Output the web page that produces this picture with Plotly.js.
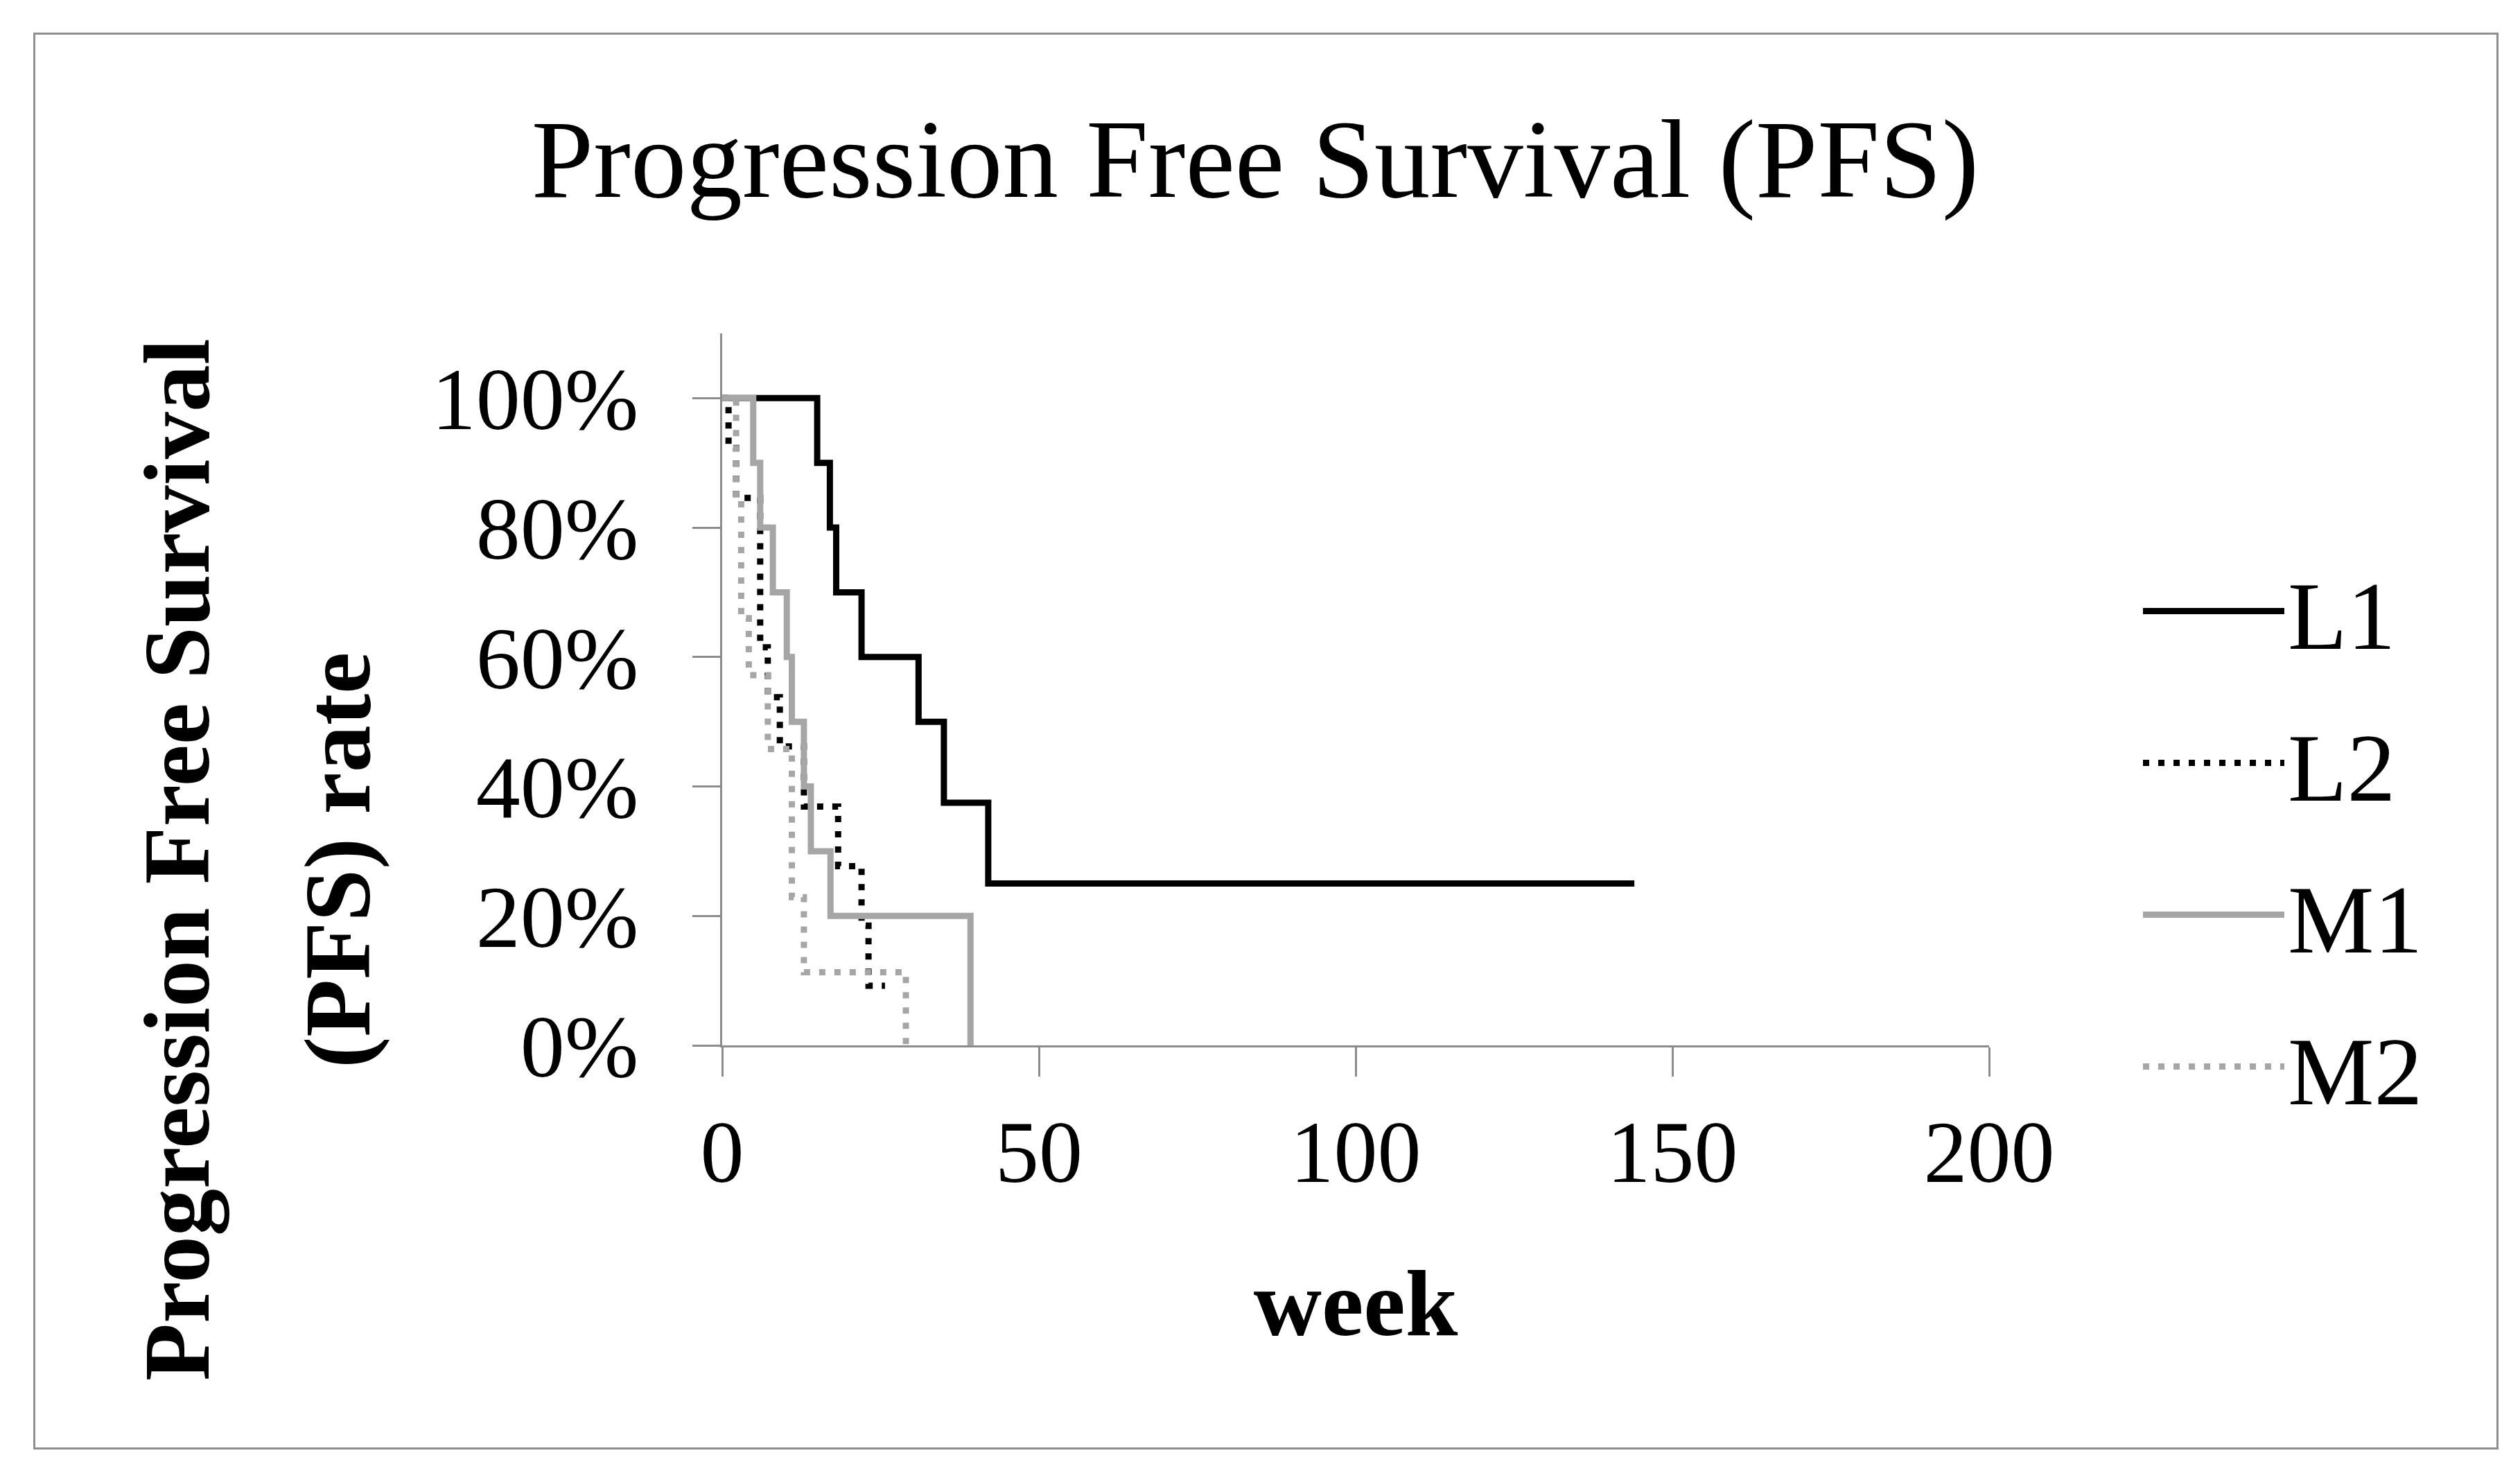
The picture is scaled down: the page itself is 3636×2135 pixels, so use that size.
<!DOCTYPE html>
<html>
<head>
<meta charset="utf-8">
<script src="https://cdn.plot.ly/plotly-3.0.1.min.js"></script>
<style>
html,body{margin:0;padding:0;background:#ffffff;}
#wrap{position:relative;width:3636px;height:2135px;}
#chart{position:absolute;left:0;top:0;width:3636px;height:2135px;}
#frame{position:absolute;left:48px;top:47px;width:3551px;height:2038px;border:3px solid #8e8e8e;pointer-events:none;}
</style>
</head>
<body>
<div id="wrap"><div id="chart"></div><div id="frame"></div></div>
<script>
// ---- data ----
const seriesNames = ["L1", "L2", "M1", "M2"];

const weeksL1 = [0, 15, 17, 18, 22, 31, 35, 42, 144];
const pfsL1   = [100, 90, 80, 70, 60, 50, 37.5, 25, 25];

const weeksL2 = [0, 1, 2.2, 6.0, 7.2, 9.1, 12.9, 18.3, 22.0, 23.1, 25.7];
const pfsL2   = [100, 92.3, 84.6, 61.5, 53.8, 46.2, 36.9, 27.7, 18.5, 9.2, 9.2];

const weeksM1 = [0, 4.9, 6.0, 8.0, 10.2, 11.0, 12.9, 14.0, 17.1, 39.2];
const pfsM1   = [100, 90, 80, 70, 60, 50, 40, 30, 20, 0];

const weeksM2 = [0, 2.2, 3.0, 4.2, 7.2, 11.0, 12.9, 29.0];
const pfsM2   = [100, 84.5, 66, 57.2, 45.8, 22.9, 11.3, 0];

const xTickVals = [0, 50, 100, 150, 200];
const yTickVals = [0, 20, 40, 60, 80, 100];
const yTickText = ["0%", "20%", "40%", "60%", "80%", "100%"];

const chartTitle = "Progression Free Survival (PFS)";
const xTitle = "week";
const yTitleLines = ["Progression Free Survival", "(PFS) rate"];

// ---- styles ----
const FONT = "Liberation Serif, Times New Roman, serif";
const BLACK = "#000000";
const GRAY = "#a6a6a6";
const AXIS = "#8c8c8c";
const DOTS = "9px,13px";

// plot area in pixels
const PL = 1042, PR = 2870, PT = 481, PB = 1508;
const PW = PR - PL, PH = PB - PT;
const px2paperX = p => (p - PL) / PW;
const px2paperY = p => (PB - p) / PH;

const xs = [weeksL1, weeksL2, weeksM1, weeksM2];
const ys = [pfsL1, pfsL2, pfsM1, pfsM2];
const lineStyles = [
  {color: BLACK, width: 9, dash: "solid", shape: "hv"},
  {color: BLACK, width: 9, dash: DOTS, shape: "hv"},
  {color: GRAY,  width: 9, dash: "solid", shape: "hv"},
  {color: GRAY,  width: 9, dash: DOTS, shape: "hv"}
];

const traces = seriesNames.map((name, i) => ({
  type: "scatter",
  mode: "lines",
  name: name,
  legendgroup: name,
  x: xs[i],
  y: ys[i],
  line: lineStyles[i],
  hoverinfo: "skip"
}));

const yTitleX = [255, 487];
const annotations = yTitleLines.map((t, i) => ({
  text: t,
  xref: "paper", yref: "paper",
  x: px2paperX(yTitleX[i]), y: px2paperY(1241),
  xanchor: "center", yanchor: "middle",
  textangle: -90,
  showarrow: false,
  font: {family: FONT, size: 136, color: BLACK, weight: "bold"}
}));

const layout = {
  width: 3636,
  height: 2135,
  paper_bgcolor: "#ffffff",
  plot_bgcolor: "#ffffff",
  margin: {l: PL, r: 3636 - PR, t: PT, b: 2135 - PB, pad: 0, autoexpand: false},
  font: {family: FONT, color: BLACK, size: 128},
  title: {
    text: chartTitle,
    font: {family: FONT, size: 161, color: BLACK},
    xref: "container", yref: "container",
    x: 1811 / 3636, xanchor: "center",
    y: 1 - 228 / 2135, yanchor: "middle"
  },
  xaxis: {
    range: [0, 200],
    tickvals: xTickVals,
    ticktext: xTickVals.map(String),
    showgrid: false,
    zeroline: false,
    showline: true,
    linecolor: AXIS,
    linewidth: 3,
    ticks: "outside",
    ticklen: 42,
    tickwidth: 3,
    tickcolor: AXIS,
    tickfont: {family: FONT, size: 126, color: BLACK},
    ticklabelstandoff: 1,
    automargin: false,
    fixedrange: true,
    title: {text: xTitle, font: {family: FONT, size: 136, color: BLACK, weight: "bold"}, standoff: 100}
  },
  yaxis: {
    range: [0, 110],
    tickvals: yTickVals,
    ticktext: yTickText,
    showgrid: false,
    zeroline: false,
    showline: true,
    linecolor: AXIS,
    linewidth: 3,
    ticks: "outside",
    ticklen: 40,
    tickwidth: 3,
    tickcolor: AXIS,
    tickfont: {family: FONT, size: 128, color: BLACK},
    ticklabelstandoff: 52,
    automargin: false,
    fixedrange: true
  },
  annotations: annotations,
  showlegend: true,
  legend: {
    xref: "container", yref: "container",
    x: 3087 / 3636, xanchor: "left",
    y: 1 - 784 / 2135, yanchor: "top",
    orientation: "v",
    traceorder: "grouped",
    tracegroupgap: 34,
    itemwidth: 204,
    font: {family: FONT, size: 140, color: BLACK},
    bgcolor: "rgba(0,0,0,0)",
    borderwidth: 0
  }
};

Plotly.newPlot("chart", traces, layout, {displayModeBar: false, staticPlot: true, responsive: false});
</script>
</body>
</html>
